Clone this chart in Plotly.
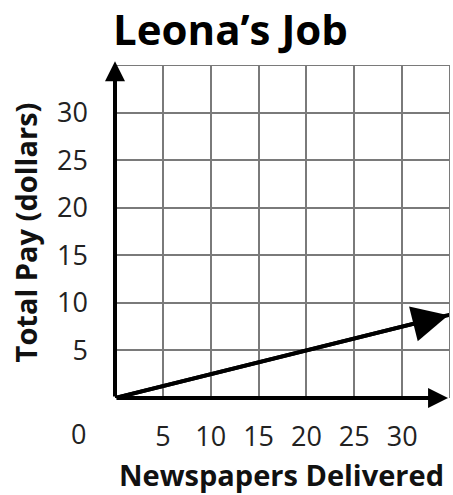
import plotly.graph_objects as go

# Data
newspapers = [0, 35]
pay = [0, 8.75]
x_ticks = [5, 10, 15, 20, 25, 30]
y_ticks = [5, 10, 15, 20, 25, 30]
title_text = "Leona’s Job"
x_title = "Newspapers Delivered"
y_title = "Total Pay (dollars)"

FONT = "Open Sans, DejaVu Sans, sans-serif"
TICK_SIZE = 27

fig = go.Figure()
fig.add_trace(go.Scatter(
    x=newspapers, y=pay, mode="lines",
    line=dict(color="black", width=4),
    hoverinfo="skip", showlegend=False, cliponaxis=False,
))

grid = dict(showgrid=True, gridcolor="#7a7a7a", gridwidth=2, zeroline=False,
            showline=False, ticks="", automargin=False,
            tickfont=dict(family=FONT, size=TICK_SIZE, color="#222"))

fig.update_layout(
    width=453, height=495,
    margin=dict(l=115, r=3, t=65, b=97),
    paper_bgcolor="white", plot_bgcolor="white",
    xaxis=dict(range=[0, 35], tickvals=x_ticks, ticklabelstandoff=20, **grid),
    yaxis=dict(range=[0, 35], tickvals=y_ticks, ticklabelstandoff=26, **grid),
)

# Border lines at the top and right (grid edges)
fig.add_shape(type="line", xref="x", yref="y", x0=0, x1=35, y0=35, y1=35,
              line=dict(color="#7a7a7a", width=2))
fig.add_shape(type="line", xref="x", yref="y", x0=35, x1=35, y0=0, y1=35,
              line=dict(color="#7a7a7a", width=2))

# Arrowhead on the data line
fig.add_annotation(x=newspapers[-1] * 0.995, y=pay[-1] * 0.995,
                   ax=newspapers[0], ay=pay[0],
                   xref="x", yref="y", axref="x", ayref="y",
                   showarrow=True, arrowhead=2, arrowsize=1.8, arrowwidth=4,
                   arrowcolor="black", text="")

# Axis arrows
fig.add_annotation(x=34.8, y=0, ax=0, ay=0, xref="x", yref="y", axref="x", ayref="y",
                   showarrow=True, arrowhead=2, arrowsize=1.0, arrowwidth=4,
                   arrowcolor="black", text="")
fig.add_annotation(x=0, y=35.4, ax=0, ay=0, xref="x", yref="y", axref="x", ayref="y",
                   showarrow=True, arrowhead=2, arrowsize=1.0, arrowwidth=4,
                   arrowcolor="black", text="")

# Origin label
fig.add_annotation(x=-0.11, y=-0.106, xref="paper", yref="paper", text="0",
                   showarrow=False, xanchor="center", yanchor="middle",
                   font=dict(family=FONT, size=TICK_SIZE, color="#222"))

# Titles
fig.add_annotation(x=-0.012, y=1.11, xref="paper", yref="paper", text="<b>" + title_text + "</b>",
                   showarrow=False, xanchor="left", yanchor="middle",
                   font=dict(family=FONT, size=42, color="black"))
fig.add_annotation(x=0.497, y=-0.29, xref="paper", yref="paper", text="<b>" + x_title + "</b>",
                   showarrow=False, xanchor="center", yanchor="bottom", borderpad=0,
                   font=dict(family=FONT, size=29, color="#111"))
fig.add_annotation(x=-0.268, y=0.498, xref="paper", yref="paper", text="<b>" + y_title + "</b>",
                   showarrow=False, xanchor="center", yanchor="middle", textangle=-90,
                   font=dict(family=FONT, size=29, color="#111"))

fig.write_html("out.html", config={"displayModeBar": False},
               post_script="document.body.style.margin='0';document.body.style.overflow='hidden';")
